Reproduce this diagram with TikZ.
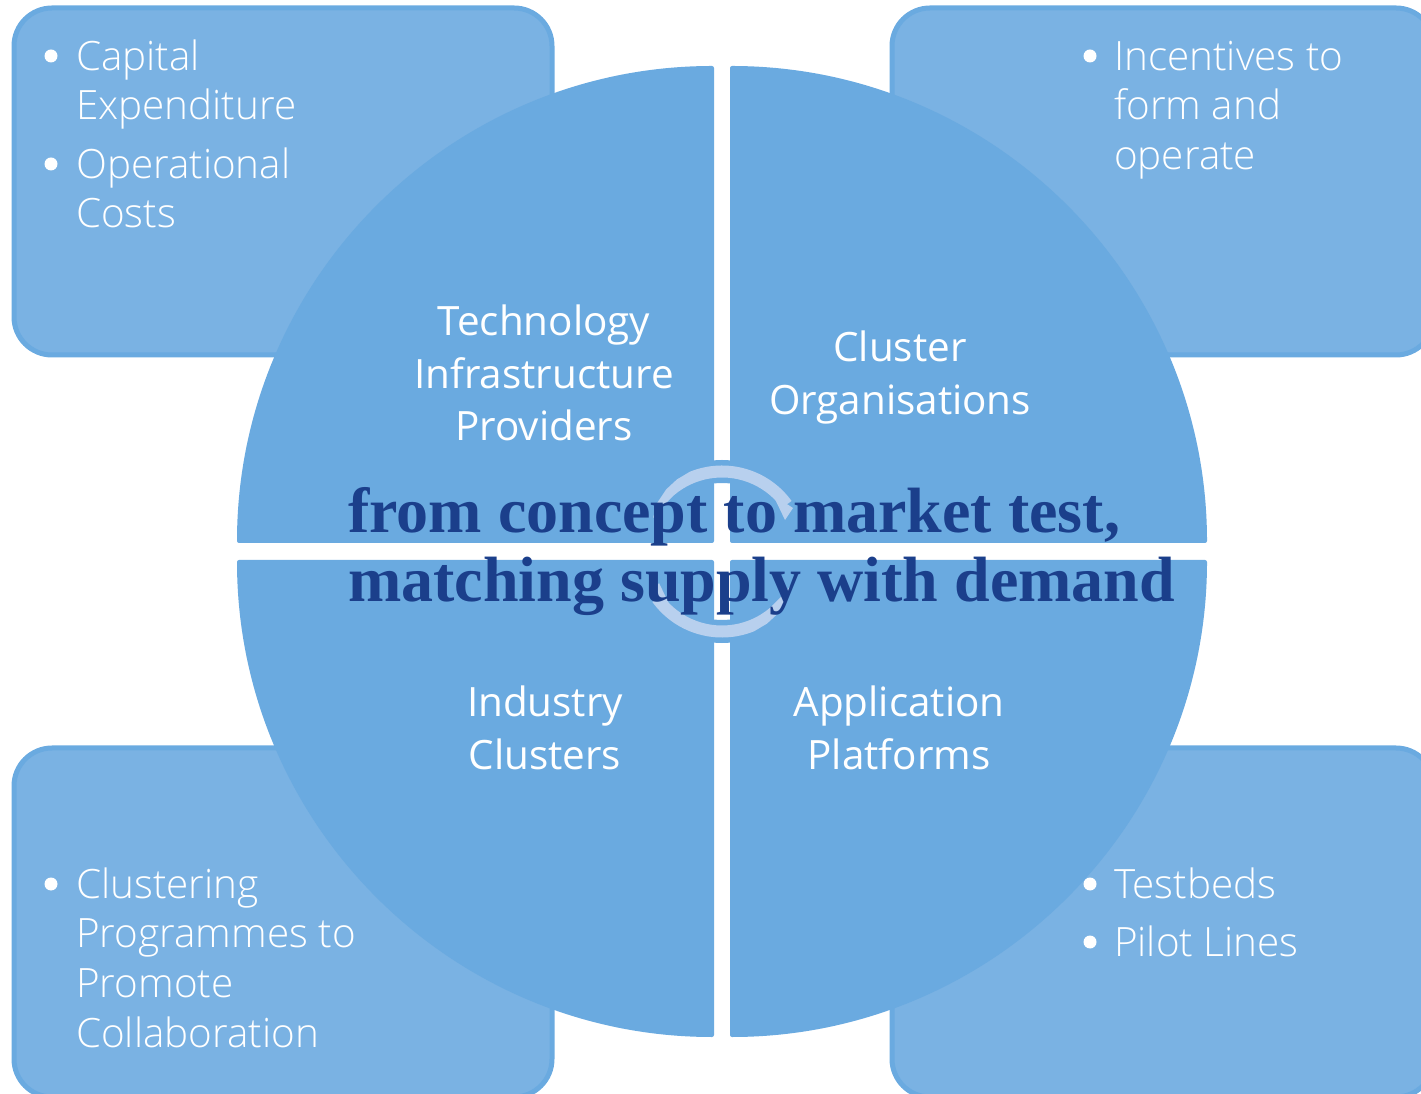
\documentclass[tikz,border=0pt]{standalone}
\usepackage{fontspec}
\setmainfont{Open Sans Light}
\newfontfamily\labelfont{Open Sans}
\newfontfamily\serifbold[BoldFont={Liberation Serif Bold}]{Liberation Serif}
\definecolor{piecol}{HTML}{6AAAE0}
\definecolor{boxcol}{HTML}{7AB2E3}
\definecolor{arrowcol}{HTML}{B8D0EE}
\definecolor{headcol}{HTML}{1B3F8B}
\tikzset{
  x=1pt,y=1pt,
  infobox/.style={draw=piecol,line width=5pt,fill=boxcol,rounded corners=38pt},
  quadrant/.style={fill=piecol,rounded corners=2pt},
  itemtext/.style={anchor=north west,inner sep=0pt,text=white,align=left,font=\fontsize{40.4}{49.8}\selectfont},
  bullet/.style={circle,fill=white,inner sep=0pt,minimum size=13pt},
  quadlabel/.style={anchor=north,inner sep=0pt,text=white,align=center,font=\labelfont\fontsize{40.4}{52.5}\selectfont},
  cyclehalo/.style={draw=piecol,line width=23pt},
  cyclearrow/.style={fill=arrowcol},
  bigtext/.style={anchor=base west,inner sep=0pt,text=headcol,font=\serifbold\bfseries\fontsize{64}{69}\selectfont}
}
\newcommand{\cycleshape}{%
  \fill[cyclearrow] (36:86) arc[start angle=36,end angle=112,radius=86pt]
    -- (122:85) -- (132:83.5) -- (143:81) -- (154:76.7) -- (145:75) -- (130:74)
    arc[start angle=130,end angle=36,radius=74pt] -- cycle;
  \fill[cyclearrow] (51,56.5) -- (71,43.5) -- (63,31.5) -- cycle;
}
\begin{document}
\begin{tikzpicture}
\useasboundingbox (0,0) rectangle (1421,1093);
\clip (0,0) rectangle (1421,1093);
% corner boxes
\draw[infobox] (14,738) rectangle (552,1085);
\draw[infobox] (892,738) rectangle (1434,1085);
\draw[infobox] (14,-4) rectangle (552,345);
\draw[infobox] (892,-4) rectangle (1434,345);
% quadrants
\fill[quadrant] (714,550) -- (237,550) arc[start angle=180,end angle=90,radius=477pt] -- cycle;
\fill[quadrant] (730,550) -- (730,1027) arc[start angle=90,end angle=0,radius=477pt] -- cycle;
\fill[quadrant] (714,533) -- (714,56) arc[start angle=270,end angle=180,radius=477pt] -- cycle;
\fill[quadrant] (730,533) -- (1207,533) arc[start angle=0,end angle=-90,radius=477pt] -- cycle;
% cycle arrows
\coordinate (hub) at (722,541.5);
\draw[cyclehalo] ([shift={(115:80pt)}]hub) arc[start angle=115,end angle=65,radius=80pt];
\draw[cyclehalo] ([shift={(295:80pt)}]hub) arc[start angle=295,end angle=245,radius=80pt];
\begin{scope}[shift={(hub)}]\cycleshape\end{scope}
\begin{scope}[shift={(hub)},rotate=180]\cycleshape\end{scope}
% bullet lists
\node[bullet] (b1) at (51,1037) {};
\node[itemtext] (t1) at (76,1058) {\strut Capital\\Expenditure};
\node[bullet] (b2) at (51,929) {};
\node[itemtext] (t2) at (76,950) {\strut Operational\\Costs};
\node[bullet] (b3) at (1090,1037) {};
\node[itemtext] (t3) at (1114,1058) {\strut Incentives to\\form and\\operate};
\node[bullet] (b4) at (51,209) {};
\node[itemtext] (t4) at (76,230) {\strut Clustering\\Programmes to\\Promote\\Collaboration};
\node[bullet] (b5) at (1090,209) {};
\node[itemtext] (t5) at (1114,230) {\strut Testbeds};
\node[bullet] (b6) at (1090,151) {};
\node[itemtext] (t6) at (1114,172) {\strut Pilot Lines};
% quadrant labels
\node[quadlabel] (q1) at (544,794) {\strut Technology\\Infrastructure\\Providers};
\node[quadlabel] (q2) at (900,768) {\strut Cluster\\Organisations};
\node[quadlabel] (q3) at (545,413) {\strut Industry\\Clusters};
\node[quadlabel] (q4) at (899,413) {\strut Application\\Platforms};
% overlay text
\node[bigtext] (s1) at (348,560) {from concept to market test,};
\node[bigtext] (s2) at (348,491) {matching supply with demand};
\end{tikzpicture}
\end{document}
